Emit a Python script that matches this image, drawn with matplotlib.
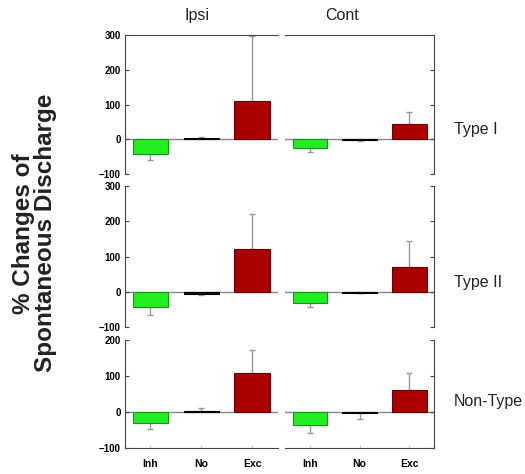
import numpy as np
import matplotlib.pyplot as plt

# Data (% change of spontaneous discharge)
categories = ['Inh', 'No', 'Exc']
sides = ['Ipsi', 'Cont']
rows = ['Type I', 'Type II', 'Non-Type']

means = {
    ('Type I', 'Ipsi'): [-42, 3, 109],
    ('Type I', 'Cont'): [-26, -3, 43],
    ('Type II', 'Ipsi'): [-43, -5, 123],
    ('Type II', 'Cont'): [-32, -2, 72],
    ('Non-Type', 'Ipsi'): [-31, 3, 109],
    ('Non-Type', 'Cont'): [-36, -3, 61],
}
errors = {
    ('Type I', 'Ipsi'): [18, 4, 188],
    ('Type I', 'Cont'): [10, 3, 35],
    ('Type II', 'Ipsi'): [22, 3, 99],
    ('Type II', 'Cont'): [11, 2, 73],
    ('Non-Type', 'Ipsi'): [16, 7, 63],
    ('Non-Type', 'Cont'): [23, 17, 47],
}
ylims = {'Type I': (-100, 300), 'Type II': (-100, 300), 'Non-Type': (-100, 200)}
yticks = {'Type I': [-100, 0, 100, 200, 300], 'Type II': [-100, 0, 100, 200, 300],
          'Non-Type': [-100, 0, 100, 200]}

colors = ['#22ee22', '#111111', '#aa0000']
edges = ['#119911', '#000000', '#660000']

fig = plt.figure(figsize=(5.25, 4.74), dpi=100)
plt.rcParams['font.family'] = ['Liberation Sans', 'DejaVu Sans']

# [bottom, height] per row, [left, width] per column
row_pos = [(0.633, 0.293), (0.310, 0.297), (0.055, 0.228)]
col_pos = [(0.238, 0.291), (0.543, 0.284)]
title_x = [0.47, 0.38]

x = np.arange(1, 4)
for r, row in enumerate(rows):
    for c, side in enumerate(sides):
        b, h = row_pos[r]
        l, w = col_pos[c]
        ax = fig.add_axes([l, b, w, h])
        m = np.array(means[(row, side)])
        e = np.array(errors[(row, side)])
        ax.axhline(0, color='#888888', lw=1, zorder=1)
        ax.bar(x, m, width=0.7, color=colors, edgecolor=edges, lw=0.8, zorder=2)
        lower = np.where(m < 0, e, 0)
        upper = np.where(m >= 0, e, 0)
        ax.errorbar(x, m, yerr=[lower, upper], fmt='none', ecolor='#999999',
                    elinewidth=1, capsize=2, zorder=1.5)
        ax.set_xlim(0.5, 3.5)
        ax.set_ylim(*ylims[row])
        ax.set_yticks(yticks[row])

        for s in ['top', 'bottom', 'left', 'right']:
            ax.spines[s].set_visible(False)
        ax.spines['left' if c == 0 else 'right'].set_visible(True)
        ax.spines['left' if c == 0 else 'right'].set_color('#444444')
        if r == 0:
            ax.spines['top'].set_visible(True)
            ax.spines['top'].set_color('#444444')
        if r == 2:
            ax.spines['bottom'].set_visible(True)
            ax.spines['bottom'].set_color('#444444')

        if c == 0:
            ax.tick_params(axis='y', direction='in', length=3, labelsize=7,
                           pad=3, colors='#444444', labelcolor='black')
            for t in ax.get_yticklabels():
                t.set_fontweight('bold')
        else:
            ax.yaxis.tick_right()
            ax.tick_params(axis='y', direction='in', length=3,
                           labelright=False, colors='#444444')

        if r == 2:
            ax.set_xticks(x)
            ax.set_xticklabels(categories, fontsize=7.5, fontweight='bold')
            ax.tick_params(axis='x', direction='in', length=2, pad=8,
                           colors='#cccccc', labelcolor='black')
        else:
            ax.set_xticks([])

        if r == 0:
            ax.text(title_x[c], 1.14, side, transform=ax.transAxes,
                    fontsize=11.5, ha='center', va='center', color='#222222')
        if c == 1:
            ax.text(1.13, 28, row, transform=ax.get_yaxis_transform(),
                    fontsize=11.5, va='center', ha='left', color='#222222')

fig.text(0.066, 0.508, '% Changes of\nSpontaneous Discharge', rotation=90,
         ha='center', va='center', fontsize=17.5, fontweight='bold',
         linespacing=0.95, color='#222222')

fig.savefig('out.png', dpi=100)
